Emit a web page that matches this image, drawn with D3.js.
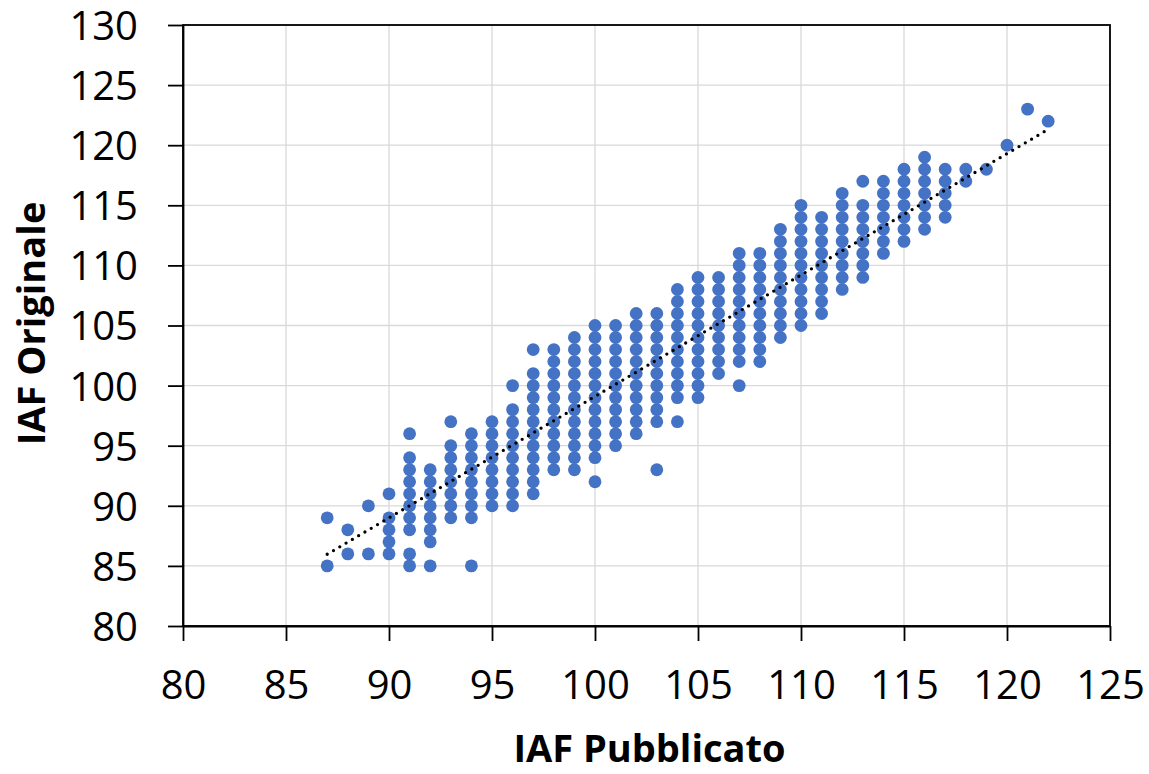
<!DOCTYPE html>
<html>
<head>
<meta charset="utf-8">
<script src="https://cdn.jsdelivr.net/npm/d3@7"></script>
<style>
  html, body { margin: 0; padding: 0; background: #ffffff; }
  svg text { font-family: "Open Sans", "Liberation Sans", sans-serif; fill: #000; }
</style>
</head>
<body>
<div id="chart"></div>
<script>
// x categories (IAF Pubblicato) and the y values shown in each column
const iafPubblicato = [87, 88, 89, 90, 91, 92, 93, 94, 95, 96, 97, 98, 99, 100, 101, 102, 103, 104,
  105, 106, 107, 108, 109, 110, 111, 112, 113, 114, 115, 116, 117, 118, 119, 120, 121, 122];

const iafOriginale = [
  [89, 85],
  [88, 86],
  [90, 86],
  [91, 89, 88, 87, 86],
  [96, 94, 93, 92, 91, 90, 89, 88, 86, 85],
  [93, 92, 91, 90, 89, 88, 87, 85],
  [97, 95, 94, 93, 92, 91, 90, 89],
  [96, 95, 94, 93, 92, 91, 90, 89, 85],
  [97, 96, 95, 94, 93, 92, 91, 90],
  [100, 98, 97, 96, 95, 94, 93, 92, 91, 90],
  [103, 101, 100, 99, 98, 97, 96, 95, 94, 93, 92, 91],
  [103, 102, 101, 100, 99, 98, 97, 96, 95, 94, 93],
  [104, 103, 102, 101, 100, 99, 98, 97, 96, 95, 94, 93],
  [105, 104, 103, 102, 101, 100, 99, 98, 97, 96, 95, 94, 92],
  [105, 104, 103, 102, 101, 100, 99, 98, 97, 96, 95],
  [106, 105, 104, 103, 102, 101, 100, 99, 98, 97, 96],
  [106, 105, 104, 103, 102, 101, 100, 99, 98, 97, 93],
  [108, 107, 106, 105, 104, 103, 102, 101, 100, 99, 97],
  [109, 108, 107, 106, 105, 104, 103, 102, 101, 100, 99],
  [109, 108, 107, 106, 105, 104, 103, 102, 101],
  [111, 110, 109, 108, 107, 106, 105, 104, 103, 102, 100],
  [111, 110, 109, 108, 107, 106, 105, 104, 103, 102],
  [113, 112, 111, 110, 109, 108, 107, 106, 105, 104],
  [115, 114, 113, 112, 111, 110, 109, 108, 107, 106, 105],
  [114, 113, 112, 111, 110, 109, 108, 107, 106],
  [116, 115, 114, 113, 112, 111, 110, 109, 108],
  [117, 115, 114, 113, 112, 111, 110, 109],
  [117, 116, 115, 114, 113, 112, 111],
  [118, 117, 116, 115, 114, 113, 112],
  [119, 118, 117, 116, 115, 114, 113],
  [118, 117, 116, 115, 114],
  [118, 117],
  [118],
  [120],
  [123],
  [122]
];

// linear trendline
const trendSlope = 1.01;
const trendIntercept = -1.9;
const trendRange = [87, 122];

const xTicks = [80, 85, 90, 95, 100, 105, 110, 115, 120, 125];
const yTicks = [80, 85, 90, 95, 100, 105, 110, 115, 120, 125, 130];

const colors = {
  dot: "#4472C4",
  grid: "#d9d9d9",
  axis: "#000000"
};

// dimensions
const W = 1149, H = 774;
const margin = { top: 25, right: 39, bottom: 148, left: 183 };
const width = W - margin.left - margin.right;
const height = H - margin.top - margin.bottom;

const svg = d3.select("#chart")
  .append("svg")
  .attr("width", W)
  .attr("height", H);

const g = svg.append("g")
  .attr("transform", `translate(${margin.left},${margin.top})`);

const x = d3.scaleLinear().domain([80, 125]).range([0, width]);
const y = d3.scaleLinear().domain([80, 130]).range([height, 0]);

// gridlines
g.append("g")
  .selectAll("line")
  .data(xTicks)
  .join("line")
  .attr("x1", d => x(d)).attr("x2", d => x(d))
  .attr("y1", 0).attr("y2", height)
  .attr("stroke", colors.grid)
  .attr("stroke-width", 1.3);

g.append("g")
  .selectAll("line")
  .data(yTicks)
  .join("line")
  .attr("y1", d => y(d)).attr("y2", d => y(d))
  .attr("x1", 0).attr("x2", width)
  .attr("stroke", colors.grid)
  .attr("stroke-width", 1.3);

// points
const points = [];
iafPubblicato.forEach((xv, i) => {
  iafOriginale[i].forEach(yv => points.push({ x: xv, y: yv }));
});

g.append("g")
  .selectAll("circle")
  .data(points)
  .join("circle")
  .attr("cx", d => x(d.x))
  .attr("cy", d => y(d.y))
  .attr("r", 6.4)
  .attr("fill", colors.dot);

// dotted trendline
const trend = trendRange.map(v => ({ x: v, y: trendSlope * v + trendIntercept }));
g.append("path")
  .datum(trend)
  .attr("d", d3.line().x(d => x(d.x)).y(d => y(d.y)))
  .attr("fill", "none")
  .attr("stroke", "#000")
  .attr("stroke-width", 3.3)
  .attr("stroke-linecap", "round")
  .attr("stroke-dasharray", "0 7.3");

// axes
const xAxis = g.append("g")
  .attr("transform", `translate(0,${height})`)
  .call(d3.axisBottom(x).tickValues(xTicks).tickSize(15).tickSizeOuter(0).tickPadding(30));

const yAxis = g.append("g")
  .call(d3.axisLeft(y).tickValues(yTicks).tickSize(15).tickSizeOuter(0).tickPadding(30));

[xAxis, yAxis].forEach(ax => {
  ax.select(".domain").attr("stroke", colors.axis).attr("stroke-width", 1.8);
  ax.selectAll(".tick line").attr("stroke", colors.axis).attr("stroke-width", 1.8);
  ax.selectAll(".tick text")
    .style("font-size", "40px")
    .style("font-family", "'Open Sans', sans-serif")
    .attr("fill", "#000");
});
yAxis.selectAll(".tick text").attr("dy", "0.36em");

// frame top and right
g.append("rect")
  .attr("x", 0).attr("y", 0)
  .attr("width", width).attr("height", height)
  .attr("fill", "none")
  .attr("stroke", colors.axis)
  .attr("stroke-width", 1.8);

// axis titles
svg.append("text")
  .attr("x", margin.left + width / 2 + 3)
  .attr("y", 762)
  .attr("text-anchor", "middle")
  .style("font-size", "38px")
  .style("font-weight", "bold")
  .text("IAF Pubblicato");

svg.append("text")
  .attr("transform", `translate(45,${margin.top + height / 2 - 2}) rotate(-90)`)
  .attr("text-anchor", "middle")
  .style("font-size", "38px")
  .style("font-weight", "bold")
  .text("IAF Originale");
</script>
</body>
</html>
